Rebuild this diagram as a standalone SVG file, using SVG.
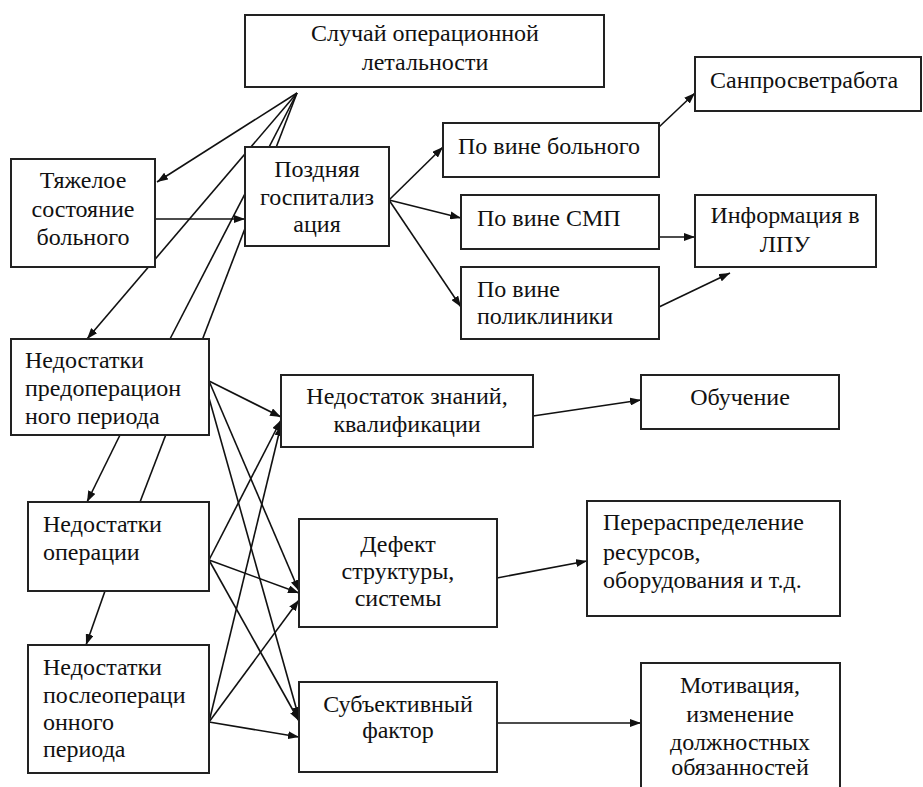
<svg xmlns="http://www.w3.org/2000/svg" width="923" height="787" viewBox="0 0 923 787">
<defs>
<marker id="ah" markerWidth="11" markerHeight="8" refX="11" refY="4" orient="auto" markerUnits="userSpaceOnUse">
<path d="M0,0 L11,4 L0,8 z" fill="#111"/>
</marker>
<style>
.box{fill:#fff;stroke:#222;stroke-width:2}
.c{stroke:#111;stroke-width:1.6;fill:none}
.a{stroke:#111;stroke-width:1.6;fill:none;marker-end:url(#ah)}
.m{text-anchor:middle}
</style>
</defs>
<rect width="923" height="787" fill="#fff"/>
<g id="connectors">
<line class="a" x1="297" y1="93" x2="157" y2="182"/>
<line class="a" x1="297" y1="93" x2="87" y2="339"/>
<line class="c" x1="297" y1="93" x2="170" y2="339"/>
<line class="c" x1="297" y1="93" x2="140" y2="502"/>
<line class="a" x1="155" y1="219" x2="245" y2="219"/>
<line class="a" x1="120" y1="435" x2="87" y2="502"/>
<line class="a" x1="105" y1="591" x2="86" y2="645"/>
<line class="a" x1="389" y1="200" x2="443" y2="147"/>
<line class="a" x1="389" y1="200" x2="461" y2="218"/>
<line class="a" x1="389" y1="200" x2="461" y2="307"/>
<line class="a" x1="659" y1="127" x2="695" y2="93"/>
<line class="a" x1="659" y1="237" x2="695" y2="237"/>
<line class="a" x1="659" y1="307" x2="730" y2="273"/>
<line class="a" x1="209" y1="381" x2="281" y2="417"/>
<line class="a" x1="209" y1="381" x2="299" y2="591"/>
<line class="a" x1="209" y1="398" x2="299" y2="718"/>
<line class="a" x1="209" y1="560" x2="281" y2="420"/>
<line class="a" x1="209" y1="560" x2="299" y2="593"/>
<line class="a" x1="209" y1="560" x2="299" y2="721"/>
<line class="a" x1="209" y1="722" x2="281" y2="425"/>
<line class="a" x1="209" y1="722" x2="299" y2="600"/>
<line class="a" x1="209" y1="722" x2="299" y2="737"/>
<line class="a" x1="533" y1="416" x2="641" y2="400"/>
<line class="a" x1="497" y1="578" x2="587" y2="561"/>
<line class="a" x1="497" y1="723" x2="641" y2="723"/>
</g>
<g id="nodes" font-family="'Liberation Serif', 'Times New Roman', serif" font-size="24" fill="#111">
<g id="n_sluchai"><rect class="box" x="245" y="15" width="359" height="72"/>
<text class="m" x="425" y="41">Случай операционной</text><text class="m" x="425" y="70">летальности</text></g>
<g id="n_tyazh"><rect class="box" x="11" y="159" width="144" height="108"/>
<text class="m" x="83" y="188">Тяжелое</text><text class="m" x="83" y="217">состояние</text><text class="m" x="83" y="245">больного</text></g>
<g id="n_pozd"><rect class="box" x="245" y="147" width="144" height="99"/>
<text class="m" x="317" y="177">Поздняя</text><text class="m" x="317" y="205">госпитализ</text><text class="m" x="317" y="232">ация</text></g>
<g id="n_bolnoy"><rect class="box" x="443" y="123" width="216" height="54"/>
<text x="458" y="154">По вине больного</text></g>
<g id="n_smp"><rect class="box" x="461" y="195" width="198" height="54"/>
<text x="477" y="226">По вине СМП</text></g>
<g id="n_poli"><rect class="box" x="461" y="267" width="198" height="72"/>
<text x="477" y="297">По вине</text><text x="477" y="324">поликлиники</text></g>
<g id="n_sanpros"><rect class="box" x="695" y="57" width="226" height="54"/>
<text x="710" y="88">Санпросветработа</text></g>
<g id="n_info"><rect class="box" x="695" y="195" width="181" height="72"/>
<text class="m" x="785" y="223">Информация в</text><text class="m" x="785" y="252">ЛПУ</text></g>
<g id="n_predop"><rect class="box" x="11" y="339" width="198" height="96"/>
<text x="25" y="368">Недостатки</text><text x="25" y="396">предоперацион</text><text x="25" y="424">ного периода</text></g>
<g id="n_oper"><rect class="box" x="28" y="502" width="181" height="89"/>
<text x="43" y="532">Недостатки</text><text x="43" y="560">операции</text></g>
<g id="n_posle"><rect class="box" x="28" y="645" width="181" height="128"/>
<text x="43" y="675">Недостатки</text><text x="43" y="703">послеопераци</text><text x="43" y="730">онного</text><text x="43" y="757">периода</text></g>
<g id="n_znan"><rect class="box" x="281" y="375" width="252" height="72"/>
<text class="m" x="407" y="404">Недостаток знаний,</text><text class="m" x="407" y="432">квалификации</text></g>
<g id="n_defekt"><rect class="box" x="299" y="519" width="198" height="108"/>
<text class="m" x="398" y="552">Дефект</text><text class="m" x="398" y="579">структуры,</text><text class="m" x="398" y="606">системы</text></g>
<g id="n_subj"><rect class="box" x="299" y="682" width="198" height="90"/>
<text class="m" x="398" y="712">Субъективный</text><text class="m" x="398" y="738">фактор</text></g>
<g id="n_obuch"><rect class="box" x="641" y="375" width="198" height="54"/>
<text class="m" x="740" y="405">Обучение</text></g>
<g id="n_pereras"><rect class="box" x="587" y="501" width="253" height="115"/>
<text x="603" y="530">Перераспределение</text><text x="603" y="560">ресурсов,</text><text x="603" y="588">оборудования и т.д.</text></g>
<g id="n_motiv"><rect class="box" x="641" y="663" width="199" height="130"/>
<text class="m" x="740" y="693">Мотивация,</text><text class="m" x="740" y="722">изменение</text><text class="m" x="740" y="750">должностных</text><text class="m" x="740" y="775">обязанностей</text></g>
</g>
</svg>
